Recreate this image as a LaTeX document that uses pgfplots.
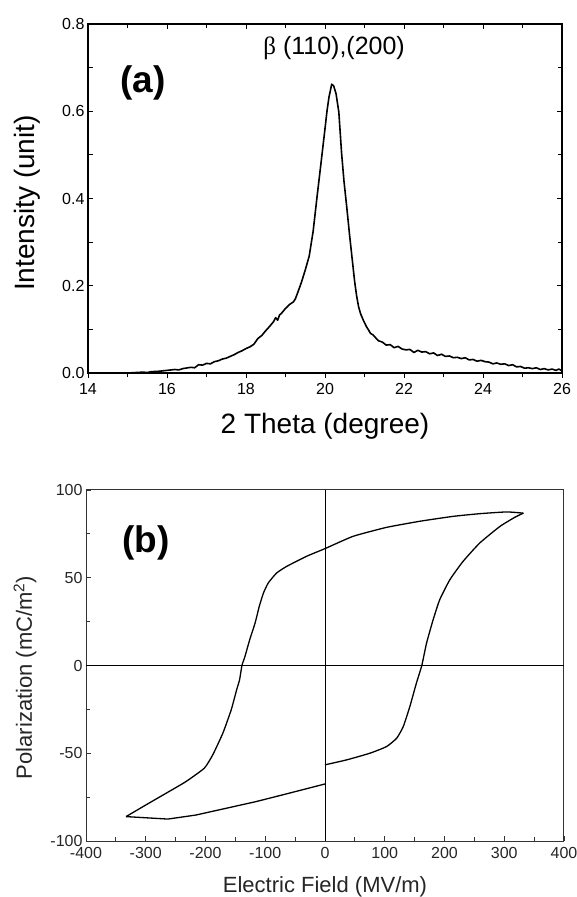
\documentclass[border=0pt]{standalone}
\usepackage{fontspec}
\setmainfont{Liberation Sans}
\newfontfamily\seriffont{Liberation Serif}
\usepackage{pgfplots}
\pgfplotsset{compat=1.18}
\begin{document}
\begin{tikzpicture}
\path[use as bounding box] (0,0) rectangle (577bp,897bp);
% ---------------- panel (a) ----------------
\begin{axis}[
  at={(88bp,524bp)}, anchor=south west,
  width=474bp, height=349bp, scale only axis,
  xmin=14, xmax=26, ymin=0, ymax=0.8,
  xtick={14,16,18,20,22,24,26}, minor xtick={15,17,19,21,23,25},
  ytick={0,0.2,0.4,0.6,0.8}, minor ytick={0.1,0.3,0.5,0.7},
  xtick pos=bottom, xtick align=outside, ytick align=inside,
  major tick length=5bp, minor tick length=4.5bp,
  every tick/.style={black, line width=0.9bp},
  axis line style={line width=1.2bp},
  /pgf/number format/assume math mode=true,
  yticklabel style={/pgf/number format/.cd, fixed, fixed zerofill, precision=1},
  tick label style={font=\fontsize{16bp}{18bp}\selectfont},
  xticklabel style={yshift=-2bp},
  label style={font=\fontsize{28bp}{32bp}\selectfont},
  xlabel={2 Theta (degree)},
  ylabel={Intensity (unit)},
  xlabel style={at={(axis description cs:0.5,-0.172)}, anchor=base},
  ylabel style={at={(axis description cs:-0.1276,0.487)}, anchor=center},
]
\addplot[black, line width=1.6bp, line join=round] coordinates {
(15.0,0.000) (15.2,0.001) (15.4,0.002) (15.5,0.001) (15.6,0.003) (15.8,0.004)
(16.0,0.006) (16.2,0.008) (16.3,0.007) (16.4,0.010) (16.6,0.013) (16.7,0.012)
(16.8,0.019) (16.9,0.018) (17.0,0.022) (17.1,0.021) (17.2,0.026) (17.3,0.028)
(17.4,0.032) (17.5,0.034) (17.6,0.038) (17.7,0.042) (17.8,0.047) (17.9,0.051)
(18.0,0.056) (18.1,0.060) (18.2,0.066) (18.3,0.079) (18.4,0.086) (18.5,0.097)
(18.6,0.107) (18.7,0.118) (18.75,0.127) (18.8,0.121) (18.85,0.133) (18.9,0.137)
(19.0,0.148) (19.05,0.152) (19.1,0.157) (19.2,0.163) (19.25,0.170) (19.3,0.182)
(19.4,0.207) (19.5,0.236) (19.6,0.268) (19.7,0.325) (19.8,0.405) (19.9,0.482)
(20.0,0.560) (20.05,0.600) (20.1,0.632) (20.17,0.662) (20.22,0.658) (20.28,0.640)
(20.35,0.598) (20.42,0.504) (20.48,0.440) (20.55,0.381) (20.62,0.318) (20.68,0.268)
(20.75,0.210) (20.8,0.177) (20.85,0.152) (20.9,0.136) (20.97,0.121) (21.05,0.106)
(21.1,0.099) (21.15,0.091) (21.22,0.087) (21.3,0.079) (21.35,0.074) (21.45,0.071)
(21.55,0.064) (21.65,0.065) (21.75,0.058) (21.85,0.061) (21.95,0.055) (22.05,0.053)
(22.15,0.054) (22.25,0.047) (22.35,0.052) (22.45,0.048) (22.55,0.049) (22.65,0.044)
(22.75,0.046) (22.85,0.040) (22.95,0.043) (23.05,0.038) (23.15,0.039) (23.25,0.035)
(23.35,0.036) (23.45,0.033) (23.55,0.035) (23.65,0.030) (23.75,0.031) (23.85,0.027)
(23.95,0.029) (24.05,0.026) (24.15,0.025) (24.25,0.021) (24.35,0.023) (24.45,0.020)
(24.55,0.021) (24.65,0.017) (24.75,0.019) (24.85,0.014) (24.95,0.015) (25.05,0.011)
(25.15,0.012) (25.25,0.010) (25.35,0.012) (25.45,0.008) (25.55,0.010) (25.65,0.007)
(25.75,0.009) (25.85,0.006) (25.92,0.009) (26.0,0.005)
};
\node at (axis cs:15.39,0.665) {\fontsize{37bp}{40bp}\selectfont\bfseries (a)};
\node at (axis cs:20.23,0.745) {\fontsize{25bp}{28bp}\selectfont{\seriffont β} (110),(200)};
\end{axis}
% top ticks pointing inward
\begin{axis}[
  at={(88bp,524bp)}, anchor=south west,
  width=474bp, height=349bp, scale only axis,
  xmin=14, xmax=26, ymin=0, ymax=0.8,
  xtick={14,16,18,20,22,24,26}, minor xtick={15,17,19,21,23,25},
  xtick pos=top, xtick align=inside, ytick=\empty,
  major tick length=5bp, minor tick length=4.5bp,
  every tick/.style={black, line width=0.9bp},
  axis line style={line width=1.2bp},
  xticklabels={},
]
\end{axis}
% ---------------- panel (b) ----------------
\begin{axis}[
  at={(86bp,56bp)}, anchor=south west,
  width=478bp, height=351bp, scale only axis,
  xmin=-400, xmax=400, ymin=-100, ymax=100,
  xtick={-400,-300,-200,-100,0,100,200,300,400},
  minor xtick={-350,-250,-150,-50,50,150,250,350},
  ytick={-100,-50,0,50,100}, minor ytick={-75,-25,25,75},
  xtick pos=bottom, ytick pos=left, tick align=inside,
  major tick length=5bp, minor tick length=4bp,
  every tick/.style={black!80, line width=0.9bp},
  axis line style={black!80, line width=1bp},
  /pgf/number format/assume math mode=true,
  tick label style={font=\fontsize{16bp}{18bp}\selectfont, text=black!85},
  xticklabel style={yshift=-3bp},
  label style={font=\fontsize{22bp}{26bp}\selectfont, text=black!85},
  xlabel={Electric Field (MV/m)},
  ylabel={Polarization (mC/m\textsuperscript{2})},
  xlabel style={at={(axis description cs:0.5,-0.148)}, anchor=base},
  ylabel style={at={(axis description cs:-0.1276,0.466)}, anchor=center},
]
\draw[black, line width=0.9bp] (axis cs:0,-100) -- (axis cs:0,100);
\draw[black, line width=0.9bp] (axis cs:-400,0) -- (axis cs:400,0);
\addplot[black, line width=1.3bp, line join=round, smooth, tension=0.3] coordinates {
(0,-56.6) (36,-53.8) (75,-50.0) (103,-46.2) (120,-41.4) (131,-34.8) (142,-23.4)
(153,-10.0) (162,0) (170,12.8) (181,26.1) (192,37.5) (209,48.9) (231,59.3)
(259,69.8) (293,79.3) (318,84.5) (332,86.8)
};
\addplot[black, line width=1.3bp, line join=round, smooth, tension=0.3] coordinates {
(332,86.8) (304,87.5) (259,86.5) (215,85.0) (159,82.2) (103,78.7) (47,73.6)
(0,66.6) (-31,62.2) (-64,56.5) (-81,52.7) (-95,47.0) (-103,41.3) (-110,33.7)
(-117,24.2) (-126,14.7) (-134,5.1) (-139,0) (-143,-8.2) (-148,-14) (-157,-25.3)
(-171,-38.6) (-188,-51) (-202,-58.5) (-233,-66.2) (-266,-72.8) (-300,-79.5)
(-333,-86.1)
};
\addplot[black, line width=1.3bp, line join=round] coordinates {
(-333,-86.1) (-263,-87.5) (-216,-85.2) (-166,-81.4) (-116,-77.6) (-65,-73.2) (0,-67.5)
};
\node at (axis cs:-300,70) {\fontsize{37bp}{40bp}\selectfont\bfseries (b)};
\end{axis}
\end{tikzpicture}
\end{document}
